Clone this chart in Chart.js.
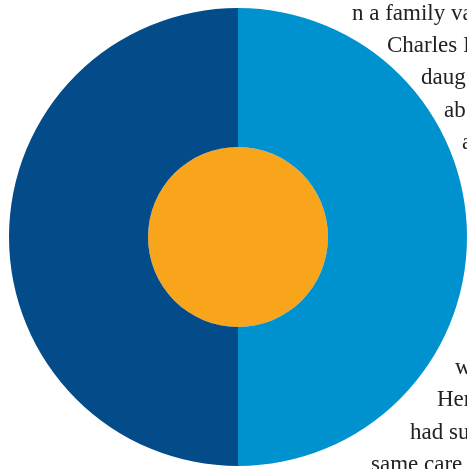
<!DOCTYPE html>
<html lang="en">
<head>
    <meta charset="UTF-8">
    <title>Pie</title>
    <script src="https://cdn.jsdelivr.net/npm/chart.js"></script>
    <style>
        html, body { margin: 0; padding: 0; background: #fff; overflow: hidden; width: 467px; height: 469px; }
        #wrap { position: absolute; left: 9px; top: 8px; width: 458px; height: 458px; }
        .line {
            position: absolute;
            white-space: nowrap;
            font-family: "Liberation Serif", serif;
            font-size: 23px;
            color: #222;
            line-height: 1;
        }
    </style>
</head>
<body>
    <div id="wrap"><canvas id="myChart" width="458" height="458"></canvas></div>
    <div id="text"></div>

    <script>
    // outer ring: right half first (starts at top, goes clockwise)
    const outerLabels = ['Right', 'Left'];
    const outerValues = [50, 50];
    const outerColors = ['#0091cf', '#034b89'];
    // inner disc
    const innerLabels = ['Centre'];
    const innerValues = [100];
    const innerColors = ['#f8a51b'];

    // article text wrapping round the chart (only the visible pieces)
    const textLines = ['n a family va', 'Charles I', 'daug', 'ab', 'a', 'w', 'Her', 'had su', 'same care'];
    const textRows = [0, 1, 2, 3, 4, 11, 12, 13, 14];
    const textLeft = [352, 387, 421, 444, 462, 455, 437, 410, 371];

    const holder = document.getElementById('text');
    textLines.forEach(function(t, k) {
        const d = document.createElement('div');
        d.className = 'line';
        d.textContent = t;
        d.style.left = textLeft[k] + 'px';
        d.style.top = (1 + textRows[k] * 32.2) + 'px';
        holder.appendChild(d);
    });

    const ctx = document.getElementById('myChart').getContext('2d');
    const myChart = new Chart(ctx, {
        type: 'pie',
        data: {
            labels: outerLabels,
            datasets: [{
                data: outerValues,
                backgroundColor: outerColors,
                borderWidth: 0,
                hoverOffset: 0,
                weight: 139
            }, {
                labels: innerLabels,
                data: innerValues,
                backgroundColor: innerColors,
                borderWidth: 0,
                hoverOffset: 0,
                weight: 90
            }]
        },
        options: {
            responsive: false,
            animation: false,
            events: [],
            layout: { padding: 0 },
            plugins: {
                legend: { display: false },
                tooltip: { enabled: false }
            }
        }
    });
    </script>
</body>
</html>
